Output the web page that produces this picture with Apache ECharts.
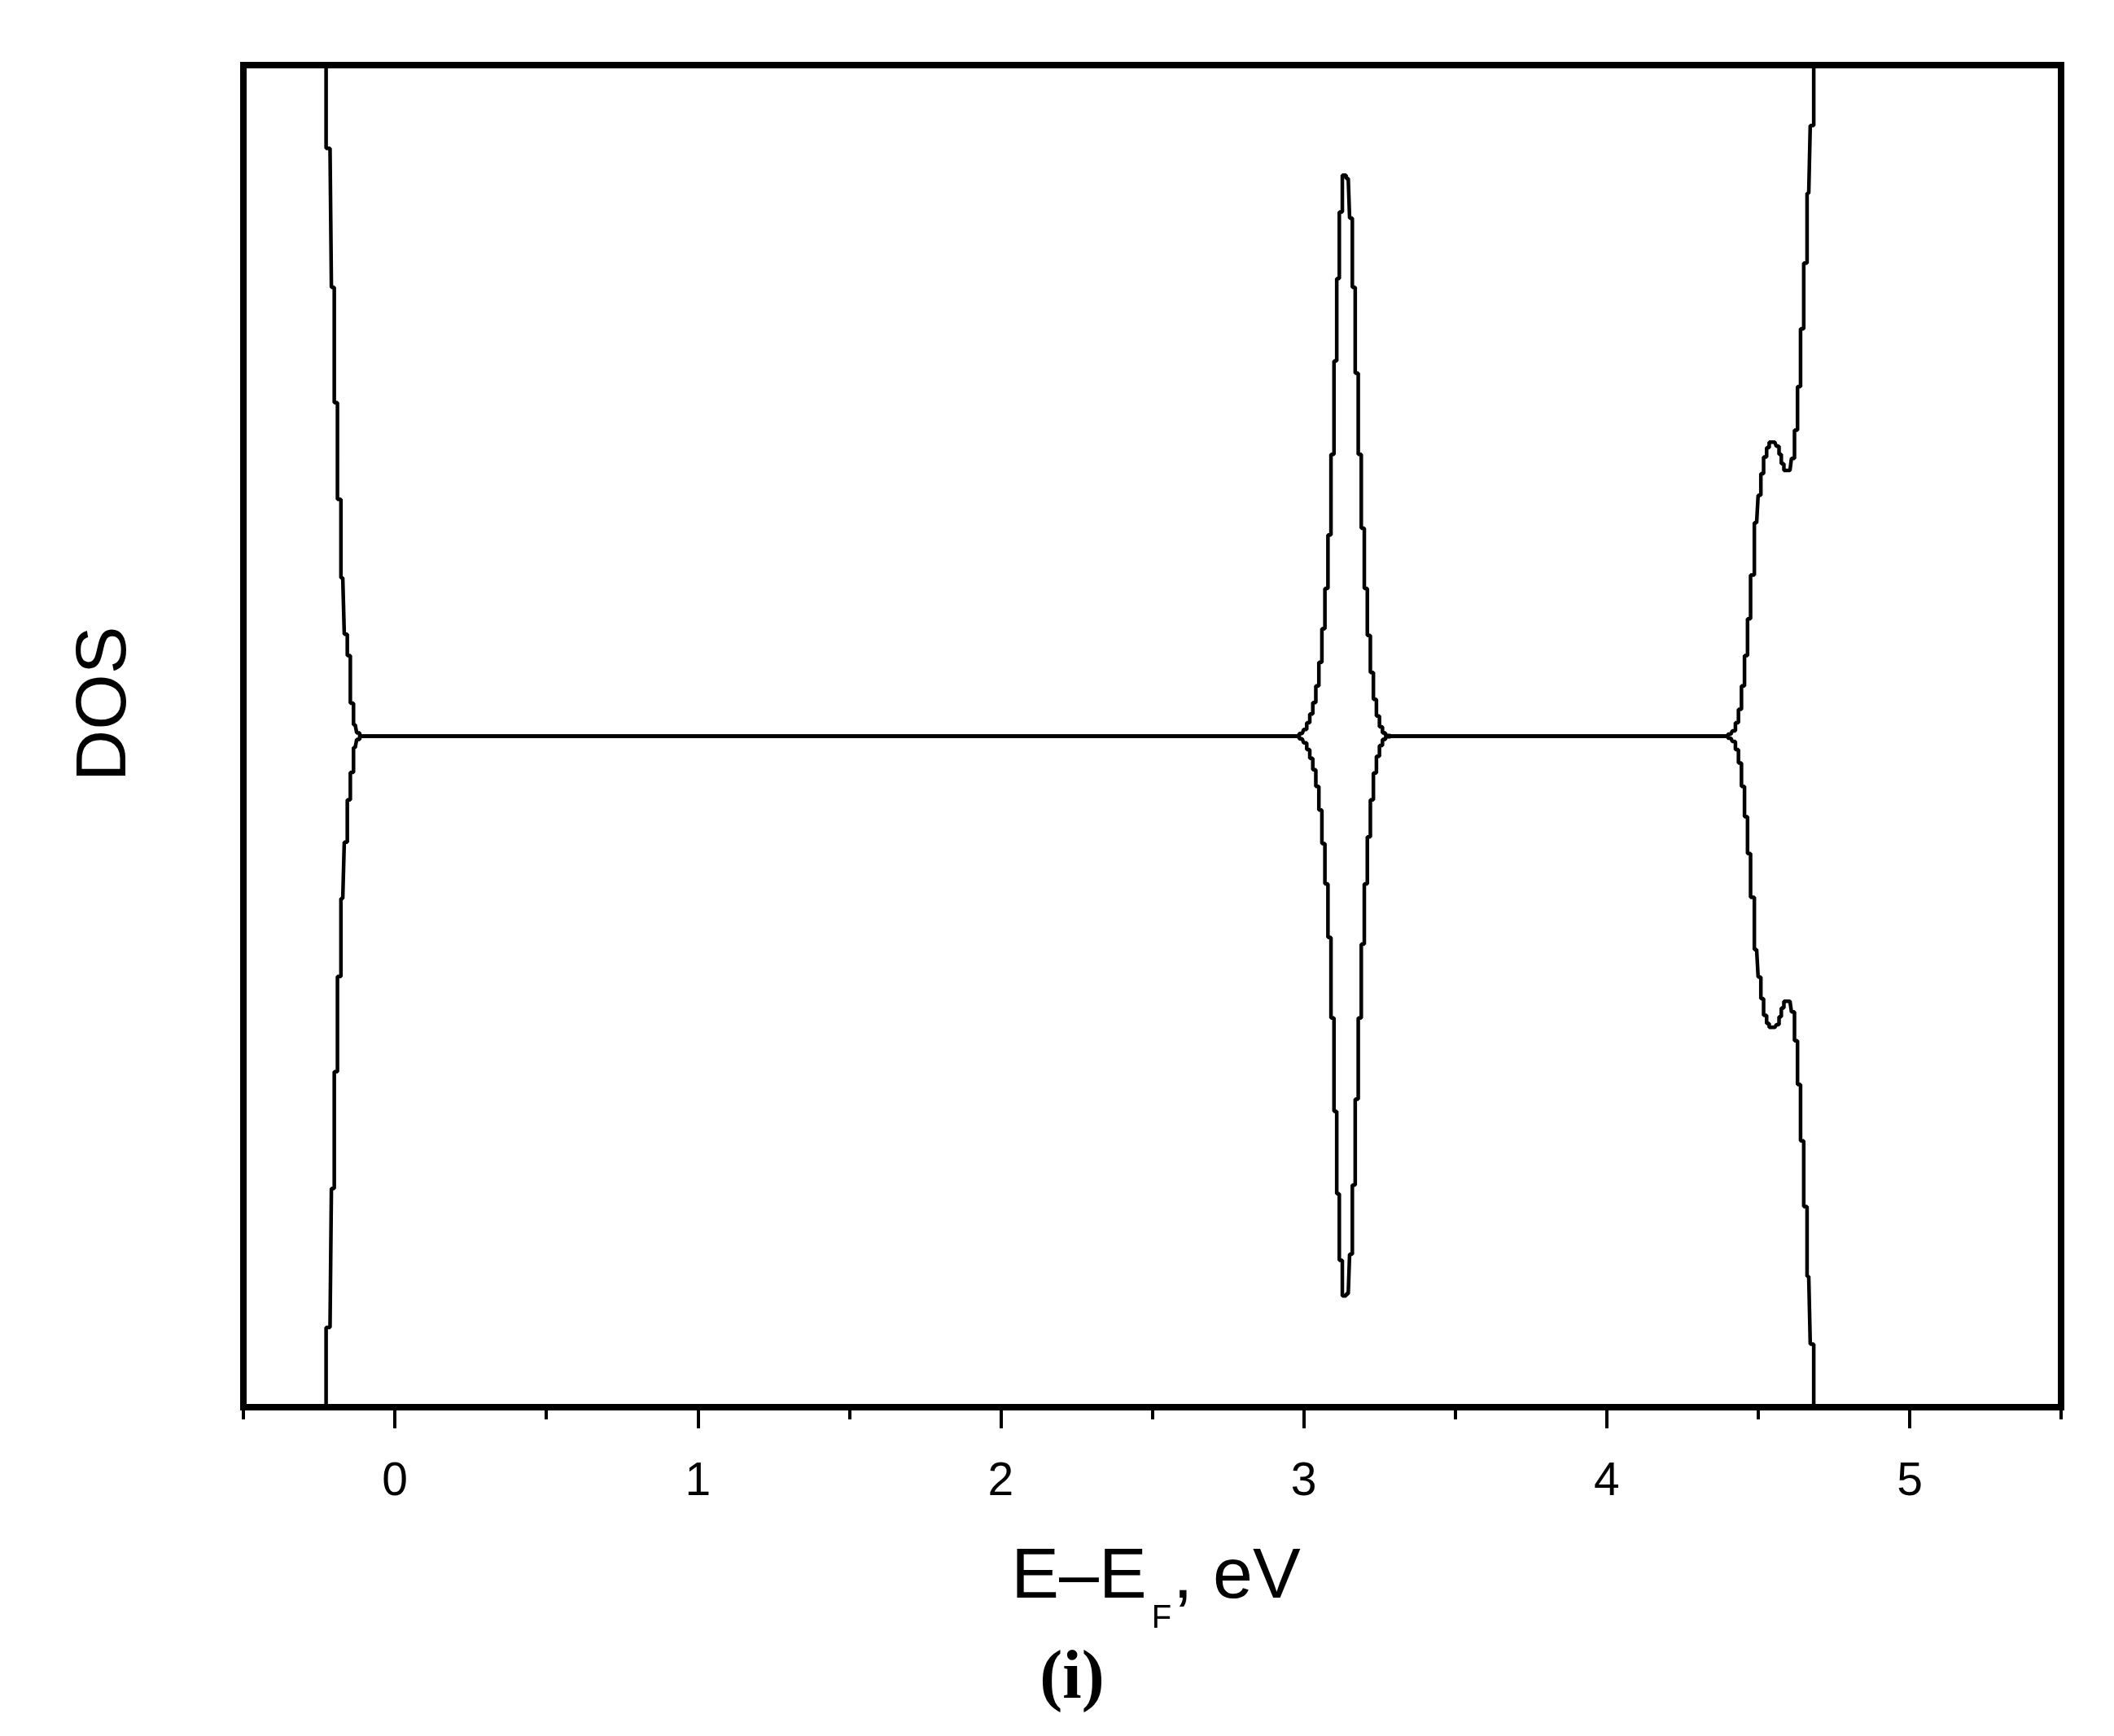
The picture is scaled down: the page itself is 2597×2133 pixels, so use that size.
<!DOCTYPE html>
<html>
<head>
<meta charset="utf-8">
<script src="https://cdn.jsdelivr.net/npm/echarts@6/dist/echarts.min.js"></script>
<style>
  html, body { margin: 0; padding: 0; background: #fff; }
  #chart { width: 2597px; height: 2133px; }
</style>
</head>
<body>
<div id="chart"></div>
<script>
// energy grid (eV), shared by both spin channels
const energy = [
  -0.24, -0.214, -0.205, -0.195, -0.184, -0.172, -0.162, -0.152, -0.142, -0.131, -0.121, -0.111,
  2.975, 2.995, 3.005, 3.015, 3.025, 3.035, 3.045, 3.055, 3.065, 3.075, 3.085, 3.095,
  3.105, 3.113, 3.122, 3.133, 3.147, 3.156, 3.165, 3.175, 3.185, 3.195, 3.205, 3.215,
  3.225, 3.235, 3.245, 3.255, 3.265, 3.275, 3.29, 3.31,
  4.39, 4.41, 4.42, 4.43, 4.44, 4.45, 4.46, 4.47, 4.48, 4.495, 4.505, 4.513, 4.523,
  4.533, 4.54, 4.555, 4.565, 4.573, 4.58, 4.59, 4.605, 4.615, 4.625, 4.635, 4.645,
  4.656, 4.667, 4.677, 4.69, 4.70
];
// spin up DOS (arb. units)
const dosUp = [
  14, 8.76, 6.69, 4.97, 3.53, 2.36, 1.52, 1.2, 0.49, 0.17, 0.05, 0,
  0, 0.04, 0.1, 0.2, 0.33, 0.5, 0.75, 1.1, 1.6, 2.2, 3.0, 4.2,
  5.59, 6.82, 7.81, 8.36, 8.31, 7.72, 6.69, 5.41, 4.2, 3.1, 2.2, 1.5,
  0.95, 0.55, 0.3, 0.14, 0.05, 0.01, 0, 0,
  0, 0.03, 0.08, 0.2, 0.4, 0.75, 1.2, 1.75, 2.4, 3.18, 3.59, 3.91, 4.16,
  4.30, 4.38, 4.38, 4.32, 4.20, 4.06, 3.96, 3.96, 4.14, 4.56, 5.21, 6.07,
  7.05, 8.09, 9.10, 11, 14
];
// spin down DOS (arb. units)
const dosDown = [
  -14, -8.81, -6.74, -5.0, -3.58, -2.42, -1.58, -0.95, -0.54, -0.17, -0.05, 0,
  0, -0.04, -0.1, -0.2, -0.33, -0.5, -0.75, -1.1, -1.6, -2.2, -3.0, -4.2,
  -5.59, -6.82, -7.81, -8.34, -8.31, -7.72, -6.69, -5.41, -4.2, -3.1, -2.2, -1.5,
  -0.95, -0.55, -0.3, -0.14, -0.05, -0.01, 0, 0,
  0, -0.03, -0.08, -0.2, -0.4, -0.75, -1.2, -1.75, -2.4, -3.18, -3.59, -3.91, -4.16,
  -4.28, -4.34, -4.34, -4.30, -4.18, -4.05, -3.95, -3.95, -4.11, -4.54, -5.19, -6.03,
  -7.01, -8.05, -9.06, -11, -14
];
// labelled (major) ticks; minor ticks every half step over the full range
const majorTicks = [0, 1, 2, 3, 4, 5];
const xRange = [-0.5, 5.5];
const yRange = [-10, 10];

const font = "Liberation Sans";
const upData = energy.map((e, i) => [e, dosUp[i]]);
const downData = energy.map((e, i) => [e, dosDown[i]]);

const chart = echarts.init(document.getElementById("chart"));
chart.setOption({
  animation: false,
  backgroundColor: "#fff",
  grid: [
    { left: 299, top: 80, right: 65, bottom: 404, show: true, borderColor: "#000", borderWidth: 8 },
    // second grid only carries the integer ticks and labels
    { left: 485.1, top: 80, right: 251, bottom: 404, show: false },
  ],
  xAxis: [
    {
      type: "value", gridIndex: 0, min: xRange[0], max: xRange[1], interval: 0.5,
      axisLine: { show: false, onZero: false },
      axisTick: { show: true, inside: false, length: 15, lineStyle: { color: "#000", width: 4 } },
      axisLabel: { show: false },
      splitLine: { show: false },
    },
    {
      type: "value", gridIndex: 1,
      min: majorTicks[0], max: majorTicks[majorTicks.length - 1], interval: 1,
      axisLine: { show: false, onZero: false },
      axisTick: { show: true, inside: false, length: 26, lineStyle: { color: "#000", width: 4 } },
      axisLabel: { show: true, margin: 64, fontSize: 57, fontFamily: font, color: "#000" },
      splitLine: { show: false },
    },
  ],
  yAxis: [
    { type: "value", gridIndex: 0, min: yRange[0], max: yRange[1], show: false },
    { type: "value", gridIndex: 1, min: yRange[0], max: yRange[1], show: false },
  ],
  series: [
    {
      name: "up", type: "line", xAxisIndex: 0, yAxisIndex: 0, data: upData,
      step: "middle", showSymbol: false, clip: true,
      lineStyle: { color: "#000", width: 4.5 },
    },
    {
      name: "down", type: "line", xAxisIndex: 0, yAxisIndex: 0, data: downData,
      step: "middle", showSymbol: false, clip: true,
      lineStyle: { color: "#000", width: 4.5 },
    },
  ],
  graphic: [
    {
      type: "text", x: 1420, y: 1895,
      style: {
        text: "{m|E–E}{s|F}{m|, eV}",
        align: "center", verticalAlign: "top", fill: "#000",
        rich: {
          m: { fontSize: 88, fontFamily: font, lineHeight: 100, verticalAlign: "top" },
          s: { fontSize: 40, fontFamily: font, lineHeight: 40, verticalAlign: "top", padding: [74, 2, 0, 6] },
        },
      },
    },
    {
      type: "text", x: 130, y: 865, rotation: Math.PI / 2,
      style: { text: "DOS", font: "88px " + font, fill: "#000", align: "center", verticalAlign: "middle" },
    },
    {
      type: "text", x: 1317, y: 2064,
      style: { text: "(i)", font: "bold 84px 'Liberation Serif'", fill: "#000", align: "center", verticalAlign: "middle" },
    },
  ],
});
</script>
</body>
</html>
